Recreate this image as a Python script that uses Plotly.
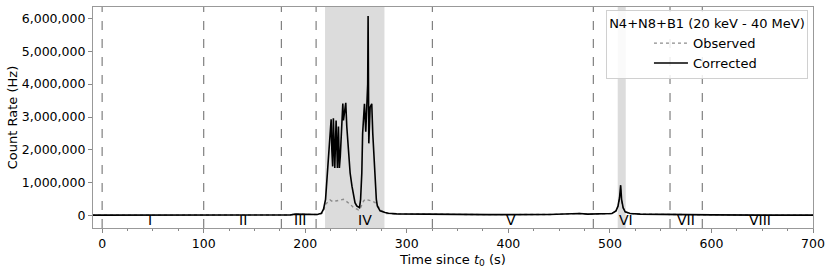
import plotly.graph_objects as go

# ---- data (time in s, count rate in Hz) ----
t_corr = [-10, 50, 150, 185, 190, 196, 200, 212, 216, 218, 220, 221.5, 222.8, 224, 225.5,
          226.2, 227, 227.7, 228.4, 229.1, 230.4, 231, 231.7, 232.7, 233.6, 234.5, 236,
          237, 237.6, 238.5, 239.9, 240.9, 242.5, 244.2, 246, 247.4, 249, 250.7, 253.4,
          254.5, 255.7, 256.5, 257.3, 258.3, 259.6, 260.6, 261.5, 261.9, 262.3, 262.6,
          263.9, 265.5, 266.5, 267.5, 268.8, 270, 271, 273.7, 278.6, 282, 290, 320, 380,
          440, 460, 470, 478, 495, 502, 506, 508, 509.5, 510.6, 511.5, 513, 515, 520, 530,
          560, 600, 650, 700]
v_corr = [20000, 20000, 20000, 25000, 50000, 50000, 30000, 40000, 80000, 200000, 500000,
          1200000, 1600000, 2300000, 2930000, 2000000, 1500000, 2960000, 2200000, 1450000,
          2890000, 2000000, 1450000, 2710000, 1450000, 1800000, 3130000, 3410000, 2900000,
          3200000, 3430000, 2710000, 2000000, 1300000, 900000, 600000, 400000, 300000,
          250000, 500000, 1300000, 2500000, 3100000, 3400000, 2550000, 3200000, 4000000,
          6070000, 3500000, 2200000, 3300000, 3400000, 2500000, 1800000, 1000000, 500000,
          300000, 150000, 100000, 80000, 60000, 45000, 35000, 40000, 60000, 70000, 50000,
          50000, 70000, 150000, 300000, 550000, 930000, 500000, 250000, 120000, 70000,
          50000, 35000, 30000, 20000, 20000]

t_obs = [-10, 50, 150, 185, 190, 196, 200, 212, 216, 218, 220, 222, 224.5, 226, 228, 230,
         232.7, 235, 237.6, 240, 242.5, 245, 247.4, 250, 252.4, 254, 255.7, 257.5, 259,
         261.5, 263.9, 266, 268.8, 270.5, 272, 274.5, 277, 280, 290, 320, 380, 440, 460,
         470, 478, 495, 502, 506, 508, 509.5, 510.6, 511.5, 513, 515, 520, 530, 560, 600,
         650, 700]
v_obs = [20000, 20000, 20000, 25000, 50000, 50000, 30000, 40000, 60000, 150000, 350000,
         420000, 480000, 450000, 430000, 450000, 470000, 500000, 500000, 450000, 400000,
         330000, 250000, 200000, 180000, 220000, 350000, 450000, 500000, 490000, 480000,
         450000, 400000, 320000, 250000, 170000, 120000, 70000, 60000, 45000, 35000,
         40000, 60000, 70000, 50000, 50000, 70000, 150000, 290000, 500000, 800000, 450000,
         230000, 120000, 70000, 50000, 35000, 30000, 20000, 20000]

boundaries = [0, 100, 176.5, 210.7, 325.2, 483.7, 559.2, 591]
shaded = [(219.5, 278), (507.7, 515.6)]
interval_names = ["I", "II", "III", "IV", "V", "VI", "VII", "VIII"]
interval_pos = [47.6, 139, 195, 259, 403, 516, 575, 648]

y_ticks = [0, 1000000, 2000000, 3000000, 4000000, 5000000, 6000000]
x_ticks = [0, 100, 200, 300, 400, 500, 600, 700]

FONT = "DejaVu Sans"
fig = go.Figure()
fig.add_trace(go.Scatter(x=t_obs, y=v_obs, mode="lines", name="Observed",
                         line=dict(color="#8c8c8c", width=1.4, dash="dot")))
fig.add_trace(go.Scatter(x=t_corr, y=v_corr, mode="lines", name="Corrected",
                         line=dict(color="black", width=1.6)))

for a, b in shaded:
    fig.add_vrect(x0=a, x1=b, fillcolor="#dcdcdc", line_width=0, layer="below")
for bnd in boundaries:
    fig.add_shape(type="line", xref="x", yref="paper", x0=bnd, x1=bnd, y0=0, y1=1,
                  line=dict(color="#808080", width=1.2, dash="dash"), layer="above")
for name, pos in zip(interval_names, interval_pos):
    fig.add_annotation(x=pos, y=-130000, xref="x", yref="y", text=name, showarrow=False,
                       font=dict(family=FONT, size=14, color="black"),
                       xanchor="center", yanchor="middle")

fig.update_layout(
    width=831, height=270,
    margin=dict(l=93, r=18, t=6, b=41),
    plot_bgcolor="white", paper_bgcolor="white",
    font=dict(family=FONT, size=12, color="black"),
    showlegend=True,
    legend=dict(x=0.993, y=0.985, xanchor="right", yanchor="top",
                bgcolor="rgba(255,255,255,0.85)", bordercolor="#d0d0d0", borderwidth=1,
                font=dict(family=FONT, size=13),
                title=dict(text="N4+N8+B1 (20 keV - 40 MeV)", side="top center",
                           font=dict(family=FONT, size=13)),
                indentation=42, itemwidth=34, tracegroupgap=0),
)
fig.update_xaxes(range=[-9, 700], tickvals=x_ticks, ticks="outside", ticklen=4,
                 tickcolor="#888888", showgrid=False, zeroline=False,
                 showline=True, linecolor="#999999", linewidth=1.2, mirror=True,
                 tickfont=dict(family=FONT, size=12.5),
                 minor=dict(dtick=25, tick0=0, ticks="outside", ticklen=2, tickcolor="#888888"),
                 title=dict(text="Time since <i>t</i><sub>0</sub> (s)", standoff=4,
                            font=dict(family=FONT, size=13)))
fig.update_yaxes(range=[-370000, 6340000], tickvals=y_ticks, tickformat=",d",
                 ticks="outside", ticklen=4, tickcolor="#888888", showgrid=False,
                 zeroline=False, showline=True, linecolor="#999999", linewidth=1.2,
                 mirror=True, tickfont=dict(family=FONT, size=12.5),
                 title=dict(text="Count Rate (Hz)", standoff=1,
                            font=dict(family=FONT, size=13)))

fig.write_html("out.html", config={"displayModeBar": False},
               post_script="document.body.style.margin='0px';document.body.style.overflow='hidden';")
